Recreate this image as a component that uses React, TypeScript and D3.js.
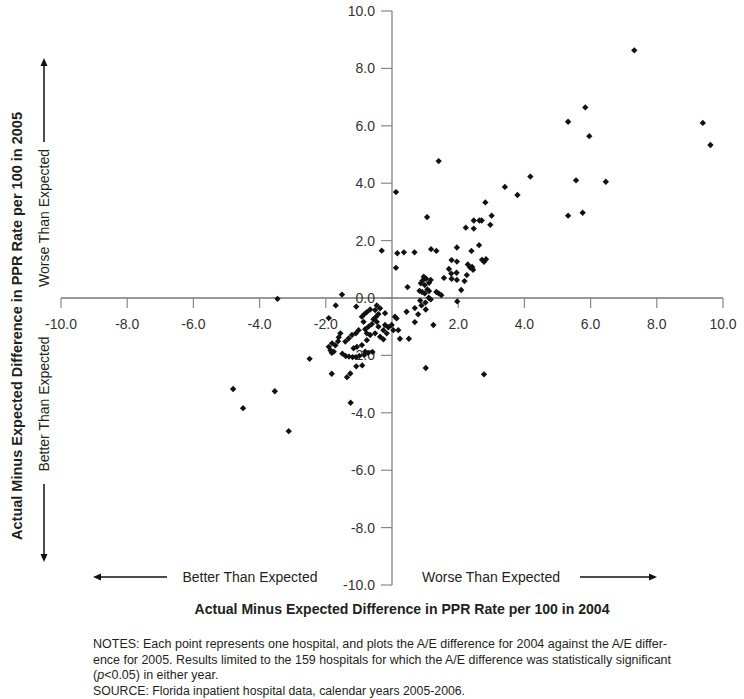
import React from "react";
import * as d3 from "d3";

// A/E difference 2004 (x) and 2005 (y), one entry per hospital
const x2004 = [
  7.32, 5.84, 5.32, 5.96, 9.39, 9.62, 4.18, 3.41, 3.79, 5.56, 6.46, 2.82, 3.01, 5.32, 5.76, 2.47, 2.64, 2.71, 2.97, 2.23,
  2.47, 1.41, 0.12, 1.06, 0.12, 0.16, 0.36, 0.68, 1.18, 1.34, 1.96, 2.63, 2.40, 1.80, 1.96, 2.72, 2.84, 2.78, 2.29, 2.36,
  2.45, 2.42, 1.72, 1.79, 1.95, 2.26, 1.80, 1.96, 2.19, 1.57, 2.09, 1.97, 0.96, 1.03, 0.92, 1.12, 1.17, 0.87, 0.99, 0.83,
  0.91, 0.99, 1.07, 1.12, 1.34, 1.41, 1.49, 1.11, 1.17, 0.85, 1.01, 0.89, 1.02, 0.69, 0.44, 0.79, 0.69, 1.25, -0.31, 0.47,
  -3.46, -4.80, -4.50, -3.54, -3.12, -2.49, -1.82, -1.36, -1.26, -1.08, -0.90, -1.82, 1.02, 2.78, -1.25, -1.51, -1.70, -1.91, -1.08, -0.46,
  -0.66, -1.50, -1.40, -1.30, -1.19, -1.09, -0.99, -0.84, -0.72, -0.59, 0.24, 0.51, -0.21, -0.11, -0.01, 0.09, 0.14, 0.04, -0.16, 0.19,
  -0.76, -0.84, -0.91, -0.41, -0.48, -0.56, -0.46, -0.61, -0.71, -0.81, -0.86, -1.01, -1.09, -1.21, -1.31, -1.41, -1.56, -1.61, -1.63, -1.81,
  -1.71, -1.91, -1.86, -1.76, -0.76, -0.66, -0.51, -0.36, -0.26, -0.91, -1.06, -0.76, -0.81, -0.26, -0.41, -0.51, -0.36, -0.21, -1.16,
];
const y2005 = [
  8.63, 6.64, 6.14, 5.64, 6.10, 5.33, 4.23, 3.87, 3.59, 4.10, 4.05, 3.33, 2.87, 2.87, 2.97, 2.70, 2.70, 2.70, 2.55, 2.45,
  2.42, 4.77, 3.69, 2.82, 1.05, 1.56, 1.59, 1.59, 1.70, 1.64, 1.76, 1.84, 1.64, 1.32, 1.27, 1.33, 1.35, 1.26, 1.17, 1.06,
  0.98, 1.08, 1.01, 0.85, 0.88, 0.80, 0.67, 0.63, 0.59, 0.70, 0.28, -0.12, 0.74, 0.67, 0.60, 0.53, 0.63, 0.51, 0.45, 0.25,
  0.21, 0.16, 0.30, 0.24, 0.21, 0.16, 0.10, 0.01, -0.05, -0.09, -0.16, -0.26, -0.40, -0.35, -0.48, -0.57, -0.84, -0.94, 1.65, 0.38,
  -0.03, -3.17, -3.84, -3.25, -4.64, -2.12, -2.64, -2.76, -2.63, -2.38, -2.35, -1.91, -2.44, -2.66, -3.65, 0.12, -0.26, -0.70, -0.30, -0.26,
  -0.40, -1.94, -2.02, -2.04, -2.06, -2.06, -2.02, -1.99, -1.91, -1.88, -1.42, -1.42, -0.94, -1.02, -0.94, -0.65, -0.71, -1.12, -1.23, -1.12,
  -0.49, -0.57, -0.65, -0.56, -0.65, -0.74, -0.83, -0.91, -1.00, -1.09, -0.83, -1.12, -1.23, -1.29, -1.41, -1.52, -1.23, -1.37, -1.51, -1.58,
  -1.65, -1.70, -1.82, -1.87, -1.47, -1.29, -1.23, -1.35, -1.44, -1.64, -1.70, -1.23, -1.87, -1.12, -1.00, -0.42, -0.36, -0.53, -1.75,
];

const xTicks = [-10, -8, -6, -4, -2, 0, 2, 4, 6, 8, 10];
const yTicks = [-10, -8, -6, -4, -2, 0, 2, 4, 6, 8, 10];

const axisTitleX = "Actual Minus Expected Difference in PPR Rate per 100 in 2004";
const axisTitleY = "Actual Minus Expected Difference in PPR Rate per 100 in 2005";
const betterLabel = "Better Than Expected";
const worseLabel = "Worse Than Expected";
const noteLines = [
  "NOTES: Each point represents one hospital, and plots the A/E difference for 2004 against the A/E differ-",
  "ence for 2005. Results limited to the 159 hospitals for which the A/E difference was statistically significant",
];
const noteLine3a = "(";
const noteLine3p = "p";
const noteLine3b = "<0.05) in either year.";
const sourceLine = "SOURCE: Florida inpatient hospital data, calendar years 2005-2006.";

const FONT = "'Liberation Sans', Arial, Helvetica, sans-serif";
const TXT = "#231f20";

export default function App() {
  const W = 744;
  const H = 699;
  const x = d3.scaleLinear().domain([-10, 10]).range([61, 723]);
  const y = d3.scaleLinear().domain([-10, 10]).range([585, 11]);
  const diamond = d3.symbol().type(d3.symbolSquare).size(20)() as string;
  const x0 = x(0);
  const y0 = y(0);
  const fmt = (v: number) => d3.format(".1f")(v).replace("\u2212", "-");
  const pts = x2004.map((v, i) => [v, y2005[i]]);

  const arrowHead = (px: number, py: number, dir: "up" | "down" | "left" | "right") => {
    const L = 8, w = 3.5;
    let d = "";
    if (dir === "up") d = `M${px},${py} L${px - w},${py + L} L${px + w},${py + L} Z`;
    if (dir === "down") d = `M${px},${py} L${px - w},${py - L} L${px + w},${py - L} Z`;
    if (dir === "left") d = `M${px},${py} L${px + L},${py - w} L${px + L},${py + w} Z`;
    if (dir === "right") d = `M${px},${py} L${px - L},${py - w} L${px - L},${py + w} Z`;
    return <path d={d} fill="#111" />;
  };

  return (
    <svg width={W} height={H} style={{ position: "absolute", left: 0, top: 0, display: "block", background: "#fff" }} fontFamily={FONT}>
      <rect width={W} height={H} fill="#fff" />
      {/* x axis */}
      <line x1={x(-10)} x2={x(10)} y1={y0} y2={y0} stroke="#333" strokeWidth={1.2} />
      {xTicks.filter((t) => t !== 0).map((t) => (
        <g key={"xt" + t}>
          <line x1={x(t)} x2={x(t)} y1={y0} y2={y0 + 10} stroke="#888" strokeWidth={1.2} />
          <text x={x(t)} y={y0 + 31} textAnchor="middle" fontSize={14} fill="#333">{fmt(t)}</text>
        </g>
      ))}
      {/* y axis */}
      <line x1={x0} x2={x0} y1={y(10)} y2={y(-10)} stroke="#777" strokeWidth={1.2} />
      {yTicks.map((t) => (
        <g key={"yt" + t}>
          <line x1={x0 - 11} x2={x0} y1={y(t)} y2={y(t)} stroke="#888" strokeWidth={1.2} />
          <text x={x0 - 17} y={y(t)} dy="0.35em" textAnchor="end" fontSize={14} fill="#333">{fmt(t)}</text>
        </g>
      ))}
      {/* points */}
      {pts.map((p, i) => (
        <path key={i} d={diamond} transform={`translate(${x(p[0])},${y(p[1])}) rotate(45)`} fill="#111" />
      ))}
      {/* left vertical direction labels */}
      <line x1={44} x2={44} y1={64} y2={142} stroke="#111" strokeWidth={1.5} />
      {arrowHead(44, 58, "up")}
      <text transform="translate(49,218) rotate(-90)" textAnchor="middle" fontSize={14} fill={TXT}>{worseLabel}</text>
      <text transform="translate(49,404) rotate(-90)" textAnchor="middle" fontSize={14} fill={TXT}>{betterLabel}</text>
      <line x1={44} x2={44} y1={484} y2={556} stroke="#111" strokeWidth={1.5} />
      {arrowHead(44, 562, "down")}
      {/* bottom direction labels */}
      <line x1={100} x2={167} y1={577} y2={577} stroke="#111" strokeWidth={1.5} />
      {arrowHead(93, 577, "left")}
      <text x={250} y={577} dy="0.35em" textAnchor="middle" fontSize={14} fill={TXT}>{betterLabel}</text>
      <text x={491} y={577} dy="0.35em" textAnchor="middle" fontSize={14} fill={TXT}>{worseLabel}</text>
      <line x1={580} x2={650} y1={577} y2={577} stroke="#111" strokeWidth={1.5} />
      {arrowHead(657, 577, "right")}
      {/* axis titles */}
      <text x={402} y={609} dy="0.35em" textAnchor="middle" fontSize={14} fontWeight="bold" fill={TXT}
        textLength={415} lengthAdjust="spacingAndGlyphs">{axisTitleX}</text>
      <text transform="translate(17,326) rotate(-90)" dy="0.35em" textAnchor="middle" fontSize={14} fontWeight="bold" fill={TXT}
        textLength={428} lengthAdjust="spacingAndGlyphs">{axisTitleY}</text>
      {/* notes */}
      <text x={93} y={644} dy="0.35em" fontSize={12.5} fill={TXT} textLength={574} lengthAdjust="spacingAndGlyphs">{noteLines[0]}</text>
      <text x={93} y={660} dy="0.35em" fontSize={12.5} fill={TXT} textLength={578} lengthAdjust="spacingAndGlyphs">{noteLines[1]}</text>
      <text x={93} y={675} dy="0.35em" fontSize={12.5} fill={TXT}>
        {noteLine3a}<tspan fontStyle="italic">{noteLine3p}</tspan>{noteLine3b}
      </text>
      <text x={93} y={691} dy="0.35em" fontSize={12.5} fill={TXT} textLength={372} lengthAdjust="spacingAndGlyphs">{sourceLine}</text>
    </svg>
  );
}
